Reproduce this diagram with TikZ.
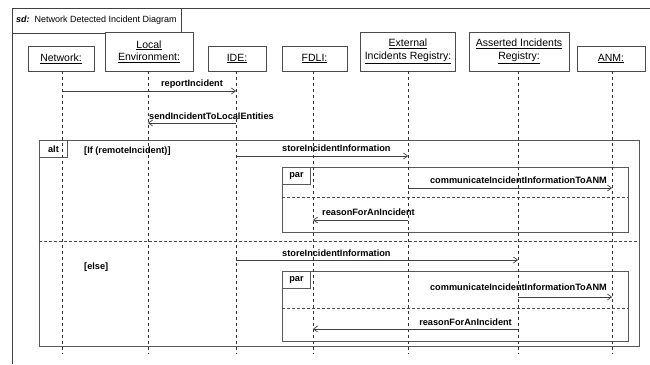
\documentclass[tikz,border=0pt]{standalone}
\usepackage{fontspec}
\setmainfont{Liberation Sans}
\usetikzlibrary{arrows.meta}
\begin{document}
\begin{tikzpicture}[x=1pt,y=-1pt,
  head/.style={draw=black!70, fill=white, line width=0.8pt, align=center,
    inner sep=0pt, font=\fontsize{10.5}{12.5}\selectfont},
  lifeline/.style={draw=black!80, line width=0.8pt, dash pattern=on 3pt off 3pt},
  msg/.style={draw=black!75, line width=0.7pt, -{Straight Barb[length=4pt,width=6pt]}},
  mlabel/.style={inner sep=0pt, font=\fontsize{9.2}{11}\selectfont\bfseries},
  frame/.style={draw=black!65, line width=0.9pt},
  tab/.style={draw=black!65, line width=0.9pt, anchor=north west, inner sep=0pt,
    minimum width=28pt, minimum height=17pt, font=\fontsize{9.2}{11}\selectfont\bfseries},
  sep/.style={draw=black!70, line width=0.7pt, dash pattern=on 3pt off 2pt}]

\useasboundingbox[fill=white] (0,0) rectangle (650,364);

% diagram frame and its title
\draw[draw=black!75, line width=0.8pt] (12,364) -- (12,8) -- (650,8);
\node[draw=black!75, line width=0.8pt, anchor=north west, minimum width=169pt,
  minimum height=25pt, inner sep=0pt] (title) at (12,8) {};
\node[anchor=west, inner sep=0pt, font=\fontsize{9}{11}\selectfont] (titletext) at (16,20.5)
  {{\bfseries\itshape sd:}\ \ Network Detected Incident Diagram};

% combined fragments
\draw[frame] (39,140) rectangle (639,346);
\node[tab] (alttab) at (39,140) {alt};
\draw[sep] (39,241) -- (639,241);
\node[mlabel, anchor=west] (guard1) at (84,151) {[If (remoteIncident)]};
\node[mlabel, anchor=west] (guard2) at (84,267) {[else]};

\draw[frame] (282,167) rectangle (628,232);
\node[tab] (partab1) at (282,167) {par};
\draw[sep] (282,197) -- (628,197);

\draw[frame] (282,271) rectangle (628,341);
\node[tab] (partab2) at (282,271) {par};
\draw[sep] (282,308) -- (628,308);

% lifeline heads
\node[head, minimum width=66pt, minimum height=25pt] (net) at (61,58.5) {\underline{Network:}};
\node[head, minimum width=88pt, minimum height=39pt] (loc) at (149,51.5) {\underline{Local}\\\underline{Environment:}};
\node[head, minimum width=58pt, minimum height=25pt] (ide) at (237,58.5) {\underline{IDE:}};
\node[head, minimum width=65pt, minimum height=25pt] (fdli) at (314.5,58.5) {\underline{FDLI:}};
\node[head, minimum width=95pt, minimum height=39pt] (ext) at (408,51.5) {\underline{External}\\\underline{Incidents Registry:}};
\node[head, minimum width=100pt, minimum height=39pt] (ass) at (519,51.5) {\underline{Asserted Incidents}\\\underline{Registry:}};
\node[head, minimum width=68pt, minimum height=25pt] (anm) at (611,58.5) {\underline{ANM:}};

% lifeline axes
\coordinate (lnet) at (62,0);
\coordinate (lloc) at (148,0);
\coordinate (lide) at (236,0);
\coordinate (lfdli) at (313,0);
\coordinate (lext) at (408,0);
\coordinate (lass) at (518,0);
\coordinate (lanm) at (612,0);
\foreach \l in {lnet,lloc,lide,lfdli,lext,lass,lanm}
  \draw[lifeline] (\l |- 0,71) -- (\l |- 0,354);

% messages
\draw[msg] (lnet |- 0,91) -- (lide |- 0,91);
\node[mlabel] (m1) at (192,84) {reportIncident};

\draw[msg] (lide |- 0,123) -- (lloc |- 0,123);
\node[mlabel, anchor=west] (m2) at (149,116) {sendIncidentToLocalEntities};

\draw[msg] (lide |- 0,156) -- (lext |- 0,156);
\node[mlabel, anchor=west] (m3) at (282,148) {storeIncidentInformation};

\draw[msg] (lext |- 0,188) -- (lanm |- 0,188);
\node[mlabel, anchor=east] (m4) at (607,180) {communicateIncidentInformationToANM};

\draw[msg] (lext |- 0,220) -- (lfdli |- 0,220);
\node[mlabel, anchor=west] (m5) at (322,212) {reasonForAnIncident};

\draw[msg] (lide |- 0,260) -- (lass |- 0,260);
\node[mlabel, anchor=west] (m6) at (282,253) {storeIncidentInformation};

\draw[msg] (lass |- 0,297) -- (lanm |- 0,297);
\node[mlabel, anchor=east] (m7) at (607,287) {communicateIncidentInformationToANM};

\draw[msg] (lass |- 0,329) -- (lfdli |- 0,329);
\node[mlabel, anchor=east] (m8) at (512,322) {reasonForAnIncident};

\end{tikzpicture}
\end{document}
